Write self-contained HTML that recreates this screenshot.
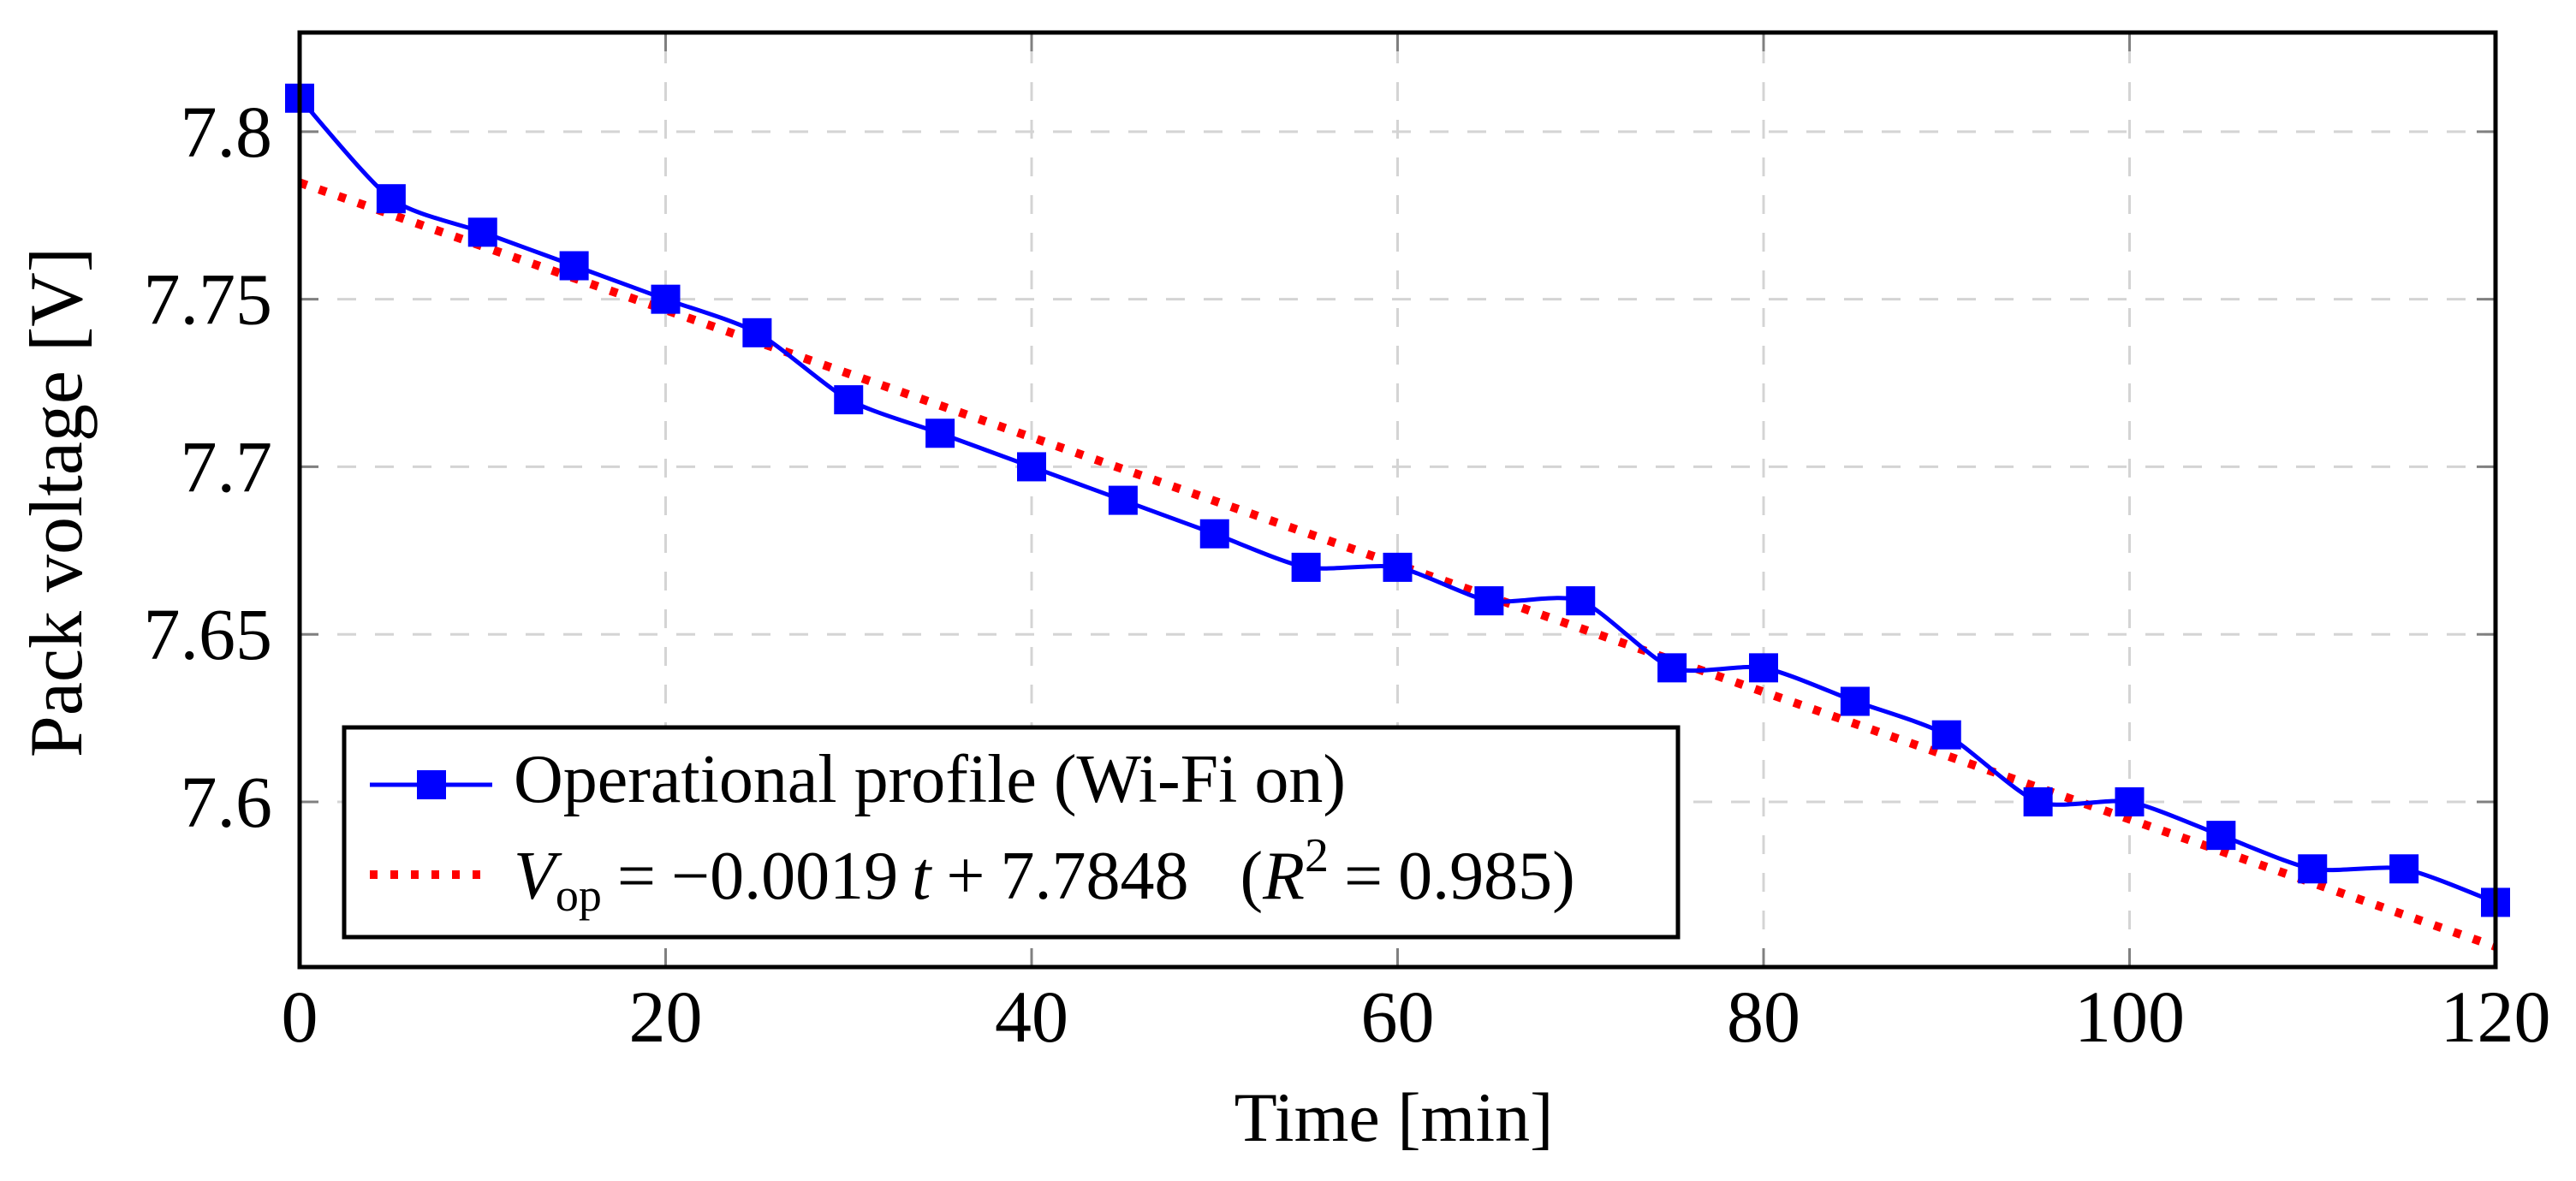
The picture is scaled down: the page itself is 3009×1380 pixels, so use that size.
<!DOCTYPE html>
<html><head><meta charset="utf-8"><style>
html,body{margin:0;padding:0;background:#fff}
svg{display:block;font-family:"Liberation Serif",serif}
</style></head><body>
<svg id="chart" width="3009" height="1380" viewBox="0 0 3009 1380" xmlns="http://www.w3.org/2000/svg">
<g id="grid"></g>
<g id="ticks"></g>
<g id="series"></g>
<rect x="350" y="38" width="2565" height="1092" fill="none" stroke="#000" stroke-width="5"/>
<g id="labels" font-size="86"></g>
<text x="1628" y="1333" font-size="82" text-anchor="middle">Time [min]</text>
<text transform="translate(95,587) rotate(-90)" font-size="88" text-anchor="middle">Pack voltage [V]</text>
<g>
<rect x="402" y="850" width="1558" height="245" fill="#fff" stroke="#000" stroke-width="5"/>
<g>
<line x1="432" y1="917" x2="575" y2="917" stroke="#0000ff" stroke-width="5"/>
<rect x="487" y="900" width="34" height="34" fill="#0000ff"/>
<text x="600" y="937" font-size="80">Operational profile (Wi-Fi on)</text>
</g>
<g>
<line x1="432" y1="1022" x2="575" y2="1022" stroke="#ff0000" stroke-width="10" stroke-dasharray="9 15"/>
<text x="600" y="1050" font-size="80"><tspan font-style="italic">V</tspan><tspan font-size="54" dy="14">op</tspan><tspan dy="-14" dx="18">=</tspan><tspan dx="18">−0.0019</tspan><tspan dx="16" font-style="italic">t</tspan><tspan dx="18">+</tspan><tspan dx="18">7.7848</tspan><tspan dx="60">(</tspan><tspan font-style="italic">R</tspan><tspan font-size="56" dy="-32">2</tspan><tspan dy="32" dx="18">=</tspan><tspan dx="18">0.985)</tspan></text>
</g>
</g>
</svg>
<script>
const times=[0,5,10,15,20,25,30,35,40,45,50,55,60,65,70,75,80,85,90,95,100,105,110,115,120];
const voltages=[7.81,7.78,7.77,7.76,7.75,7.74,7.72,7.71,7.70,7.69,7.68,7.67,7.67,7.66,7.66,7.64,7.64,7.63,7.62,7.60,7.60,7.59,7.58,7.58,7.57];
const fitSlope=-0.0019;
const fitIntercept=7.7848;
const xTicks=[0,20,40,60,80,100,120];
const yTicks=[7.6,7.65,7.7,7.75,7.8];
const yTickLabels=["7.6","7.65","7.7","7.75","7.8"];

const NS="http://www.w3.org/2000/svg";
const X0=350,X1=2915,Y0=1130,Y1=38;
const xMin=0,xMax=120,yMin=7.5507,yMax=7.8296;
function sx(v){return X0+(v-xMin)/(xMax-xMin)*(X1-X0);}
function sy(v){return Y0-(v-yMin)/(yMax-yMin)*(Y0-Y1);}
function mk(tag,attrs,parent){const e=document.createElementNS(NS,tag);for(const k in attrs)e.setAttribute(k,attrs[k]);parent.appendChild(e);return e;}
const grid=document.getElementById('grid'),ticks=document.getElementById('ticks'),series=document.getElementById('series'),labels=document.getElementById('labels');

xTicks.forEach(t=>{
  const x=sx(t);
  if(t>xMin&&t<xMax){
    const g=mk('line',{x1:x,y1:Y0,x2:x,y2:Y1,stroke:'#d4d4d4','stroke-width':3,'stroke-dasharray':'22 22'},grid);
    
    
    mk('line',{x1:x,y1:Y0,x2:x,y2:Y0-22,stroke:'#808080','stroke-width':3},ticks);
    mk('line',{x1:x,y1:Y1,x2:x,y2:Y1+22,stroke:'#808080','stroke-width':3},ticks);
  }
  const l=mk('text',{x:x,y:1217,'text-anchor':'middle'},labels);
  l.textContent=String(t);
  
  
});
yTicks.forEach((t,i)=>{
  const y=sy(t);
  const g=mk('line',{x1:X0,y1:y,x2:X1,y2:y,stroke:'#d4d4d4','stroke-width':3,'stroke-dasharray':'22 22'},grid);
  
  
  mk('line',{x1:X0,y1:y,x2:X0+22,y2:y,stroke:'#808080','stroke-width':3},ticks);
  mk('line',{x1:X1,y1:y,x2:X1-22,y2:y,stroke:'#808080','stroke-width':3},ticks);
  const l=mk('text',{x:318,y:y+29,'text-anchor':'end'},labels);
  l.textContent=yTickLabels[i];
  
  
});

const fit=mk('line',{x1:sx(xMin),y1:sy(fitIntercept+fitSlope*xMin),x2:sx(xMax),y2:sy(fitIntercept+fitSlope*xMax),stroke:'#ff0000','stroke-width':10,'stroke-dasharray':'9 15'},series);



const pts=times.map((t,i)=>[sx(t),sy(voltages[i])]);
let d='M'+pts[0][0]+','+pts[0][1];
const k=0.12;
for(let i=0;i<pts.length-1;i++){
  const p0=pts[Math.max(0,i-1)],p1=pts[i],p2=pts[i+1],p3=pts[Math.min(pts.length-1,i+2)];
  const c1=[p1[0]+(p2[0]-p0[0])*k,p1[1]+(p2[1]-p0[1])*k];
  const c2=[p2[0]-(p3[0]-p1[0])*k,p2[1]-(p3[1]-p1[1])*k];
  d+=' C'+c1[0]+','+c1[1]+' '+c2[0]+','+c2[1]+' '+p2[0]+','+p2[1];
}
const line=mk('path',{d:d,fill:'none',stroke:'#0000ff','stroke-width':5},series);


pts.forEach(p=>{
  const m=mk('rect',{x:p[0]-17,y:p[1]-17,width:34,height:34,fill:'#0000ff'},series);
  
  
});
</script>
</body></html>
